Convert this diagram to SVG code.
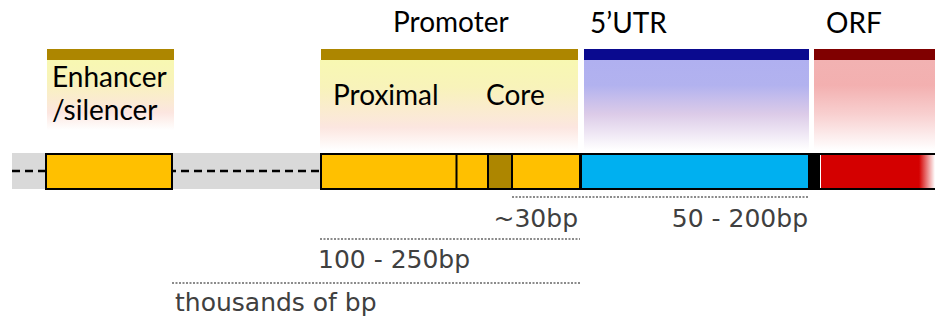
<svg xmlns="http://www.w3.org/2000/svg" width="935" height="324" viewBox="0 0 935 324">
<defs>
<style>
.hdr{font-family:Lato,"Liberation Sans",sans-serif;font-size:28px;fill:#000}
.dim{font-family:"DejaVu Sans",sans-serif;font-size:25px;fill:#404040}
.box{stroke:#000;stroke-width:2}
.dot{stroke:#666;stroke-width:1.5;stroke-dasharray:2 1.5;fill:none}
</style>
<linearGradient id="gY" x1="0" y1="0" x2="0" y2="1">
<stop offset="0" stop-color="#F8F8B2"/><stop offset="0.3" stop-color="#F8F3BA"/><stop offset="0.75" stop-color="#FCE6E0"/><stop offset="1" stop-color="#FFFFFF"/>
</linearGradient>
<linearGradient id="gB" x1="0" y1="0" x2="0" y2="1">
<stop offset="0" stop-color="#B0B0F0"/><stop offset="0.28" stop-color="#B2B2EF"/><stop offset="0.6" stop-color="#DCCBE8"/><stop offset="1" stop-color="#FFFFFF"/>
</linearGradient>
<linearGradient id="gR" x1="0" y1="0" x2="0" y2="1">
<stop offset="0" stop-color="#F2B2B2"/><stop offset="0.28" stop-color="#F3B0B0"/><stop offset="0.6" stop-color="#F8CFCF"/><stop offset="1" stop-color="#FFFFFF"/>
</linearGradient>
<linearGradient id="gRed" x1="0" y1="0" x2="1" y2="0">
<stop offset="0" stop-color="#D40000"/><stop offset="0.86" stop-color="#D40000"/><stop offset="1" stop-color="#FFFFFF"/>
</linearGradient>
</defs>
<rect width="935" height="324" fill="#fff"/>

<g id="backbone">
<rect x="12" y="153" width="310" height="36" fill="#D9D9D9"/>
<line x1="12" y1="171" x2="320" y2="171" stroke="#000" stroke-width="2.5" stroke-dasharray="8 5"/>
</g>

<g id="enhancer">
<rect x="47" y="60" width="127" height="70" fill="url(#gY)"/>
<rect x="47" y="49" width="127" height="11" fill="#AD8600"/>
<text class="hdr" x="52" y="87">Enhancer</text>
<text class="hdr" x="52" y="120">/silencer</text>
<rect class="box" x="46" y="154" width="126" height="35" fill="#FFC000"/>
</g>

<g id="promoter">
<rect x="320" y="60" width="258" height="90" fill="url(#gY)"/>
<rect x="321" y="49" width="257" height="11" fill="#AD8600"/>
<text class="hdr" x="393" y="32">Promoter</text>
<text class="hdr" x="333" y="105">Proximal</text>
<text class="hdr" x="486" y="105">Core</text>
<rect class="box" x="321" y="154" width="259" height="35" fill="#FFC000"/>
<line class="box" x1="456.5" y1="154" x2="456.5" y2="189"/>
<rect class="box" x="488" y="154" width="24" height="35" fill="#AD8600"/>
</g>

<g id="utr">
<rect x="584" y="60" width="225" height="90" fill="url(#gB)"/>
<rect x="584" y="49" width="225" height="11" fill="#0A0A8F"/>
<text class="hdr" x="590" y="33">5’UTR</text>
<rect class="box" x="581" y="154" width="228" height="35" fill="#00B0F0"/>
<rect x="809" y="153" width="11" height="37" fill="#000"/>
</g>

<g id="orf">
<rect x="814" y="60" width="121" height="90" fill="url(#gR)"/>
<rect x="814" y="49" width="121" height="11" fill="#800000"/>
<text class="hdr" x="826" y="33">ORF</text>
<rect x="821" y="154" width="114" height="35" fill="url(#gRed)"/>
<line x1="820" y1="154" x2="935" y2="154" stroke="#000" stroke-width="2"/>
<line x1="820" y1="189" x2="935" y2="189" stroke="#000" stroke-width="2"/>
</g>

<g id="connectors">
<line class="dot" x1="512" y1="197" x2="809" y2="197"/>
<line class="dot" x1="320" y1="239" x2="580" y2="239"/>
<line class="dot" x1="172" y1="283" x2="580" y2="283"/>
</g>

<g id="dims">
<text class="dim" x="578" y="227" text-anchor="end">~30bp</text>
<text class="dim" x="808" y="227" text-anchor="end">50 - 200bp</text>
<text class="dim" x="318" y="268">100 - 250bp</text>
<text class="dim" x="175" y="311">thousands of bp</text>
</g>
</svg>
